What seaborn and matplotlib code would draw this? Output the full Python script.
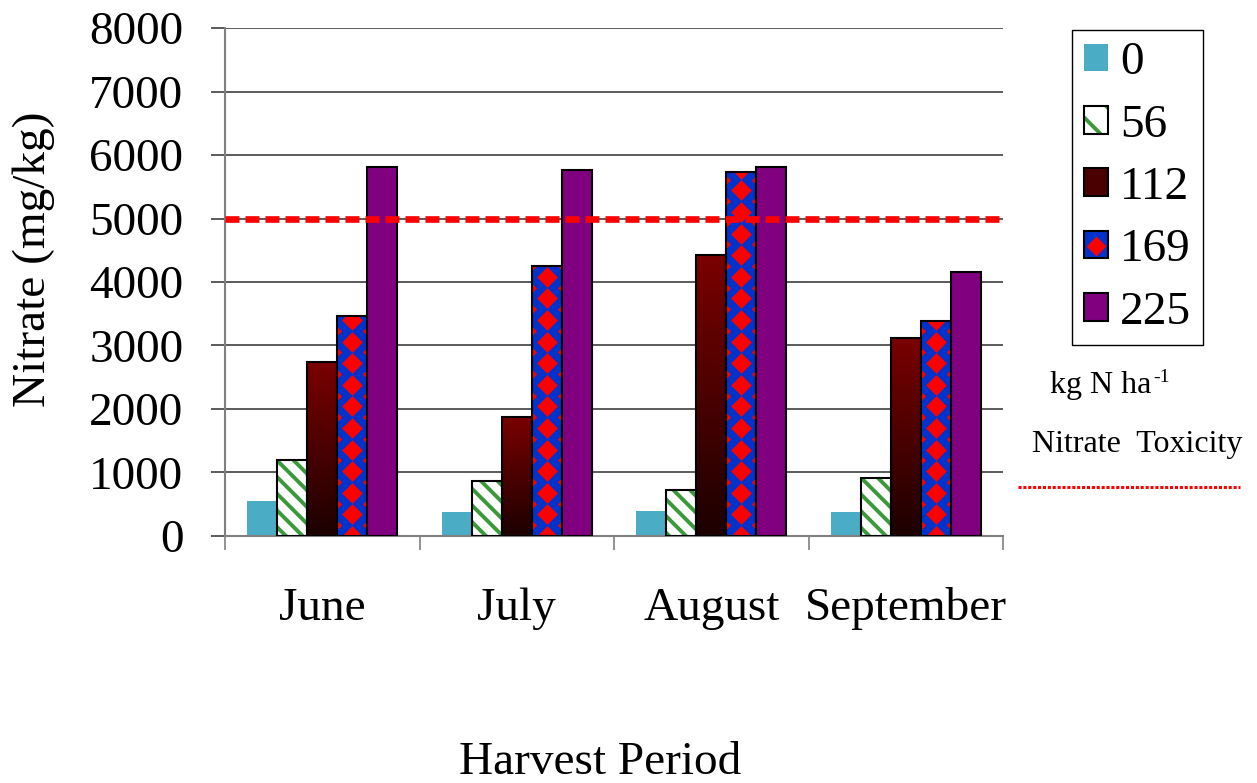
import numpy as np
import matplotlib
matplotlib.use('Agg')
import matplotlib.pyplot as plt
from matplotlib.patches import Patch, Rectangle
from matplotlib.lines import Line2D
from matplotlib.legend_handler import HandlerTuple
from matplotlib.colors import LinearSegmentedColormap
import seaborn as sns
import pandas as pd

# data (nitrate, mg/kg)
months = ['June', 'July', 'August', 'September']
rates = ['0', '56', '112', '169', '225']
n_0 = [550, 380, 390, 380]
n_56 = [1200, 870, 720, 920]
n_112 = [2740, 1880, 4420, 3120]
n_169 = [3460, 4250, 5730, 3390]
n_225 = [5810, 5760, 5810, 4160]
toxicity = 5000

df = pd.DataFrame({
    'month': months * len(rates),
    'rate': np.repeat(rates, len(months)),
    'nitrate': n_0 + n_56 + n_112 + n_169 + n_225,
})

CYAN = '#4BACC6'
GREEN = '#3A9A3A'
BLUE = '#0033CC'
PURPLE = '#800080'
DARKRED = '#4A0000'
palette = {'0': CYAN, '56': 'white', '112': DARKRED, '169': BLUE, '225': PURPLE}

sns.set_theme(style='white')
plt.rcParams['font.family'] = ['Liberation Serif', 'DejaVu Serif']
plt.rcParams['hatch.linewidth'] = 2.8
plt.rcParams['text.color'] = 'black'
plt.rcParams['axes.labelcolor'] = 'black'

fig = plt.figure(figsize=(12.57, 7.83), dpi=100)
ax = fig.add_axes([0.179, 0.3155, 0.619, 0.6487])

sns.barplot(data=df, x='month', y='nitrate', hue='rate', order=months, hue_order=rates,
            palette=palette, saturation=1, width=0.771, edgecolor='black', linewidth=1.5,
            errorbar=None, legend=False, ax=ax)

ax.set_xlim(-0.5, len(months) - 0.5)
ax.set_ylim(0, 8000)
ax.set_yticks(np.arange(0, 8001, 1000))
ax.yaxis.grid(True, color='#404040', lw=1.2)
ax.set_axisbelow(True)
for s in ['top', 'right']:
    ax.spines[s].set_visible(False)
for s in ['left', 'bottom']:
    ax.spines[s].set_color('#808080')
    ax.spines[s].set_linewidth(1.5)

# fill styles per nitrogen rate
c_0, c_56, c_112, c_169, c_225 = ax.containers
for bar in c_0:
    bar.set_edgecolor('none')

grad_cmap = LinearSegmentedColormap.from_list('dred', ['#1C0000', '#7A0000'])
grad = np.linspace(0, 1, 256).reshape(-1, 1)
px_per_y = ax.get_window_extent().height / 8000
spacing = 21.6 / px_per_y

for bar in c_56:
    x0, w, h = bar.get_x(), bar.get_width(), bar.get_height()
    ax.add_patch(Rectangle((x0, 0), w, h, facecolor='white', edgecolor=GREEN,
                           hatch='\\\\', lw=0, zorder=2))
    bar.set_facecolor('none'); bar.set_zorder(3)

for bar in c_112:
    x0, w, h = bar.get_x(), bar.get_width(), bar.get_height()
    im = ax.imshow(grad, extent=[x0, x0 + w, 0, h], origin='lower', cmap=grad_cmap,
                   aspect='auto', zorder=2, interpolation='bilinear')
    im.set_clip_path(bar)
    bar.set_facecolor('none'); bar.set_zorder(3)

for bar in c_169:
    x0, w, h = bar.get_x(), bar.get_width(), bar.get_height()
    ax.add_patch(Rectangle((x0, 0), w, h, facecolor=BLUE, lw=0, zorder=2))
    yc = np.arange(0, h + spacing, spacing)
    ye = yc + spacing / 2
    sc = ax.scatter(np.full(len(yc), x0 + w / 2), yc, marker='D', s=112, color='red',
                    linewidths=0, zorder=2.5)
    sc.set_clip_path(bar)
    se = ax.scatter(np.concatenate([np.full(len(ye), x0), np.full(len(ye), x0 + w)]),
                    np.concatenate([ye, ye]), marker='D', s=22, color='red',
                    linewidths=0, zorder=2.5)
    se.set_clip_path(bar)
    bar.set_facecolor('none'); bar.set_zorder(3)

for bar in c_225:
    bar.set_zorder(3)

# toxicity threshold
ax.axhline(toxicity, color='#FF0000', lw=4.8, ls=(0, (2.1, 0.9)), zorder=4)

# ticks: marks at category boundaries, labels at centres
ax.set_xticks(np.arange(len(months) + 1) - 0.5)
ax.set_xticklabels([''] * (len(months) + 1))
ax.set_xticks(np.arange(len(months)), minor=True)
ax.set_xticklabels(months, minor=True)
ax.tick_params(axis='x', which='major', bottom=True, direction='out', length=10,
               width=1.2, color='#808080')
ax.tick_params(axis='x', which='minor', bottom=True, length=0, pad=37, labelsize=34,
               labelcolor='black')
ax.tick_params(axis='y', left=True, direction='out', length=10, width=1.2,
               color='#404040', pad=20, labelsize=34, labelcolor='black')

ax.set_xlabel('Harvest Period', fontsize=34)
ax.xaxis.set_label_coords(0.482, -0.405)
ax.set_ylabel('Nitrate (mg/kg)', fontsize=34)
ax.yaxis.set_label_coords(-0.218, 0.545)

# legend
handles = [
    Patch(facecolor=CYAN, edgecolor='none'),
    (Patch(facecolor='white', edgecolor=GREEN, hatch='\\', lw=0),
     Patch(facecolor='none', edgecolor='black', lw=1.5)),
    Patch(facecolor=DARKRED, edgecolor='black', lw=1.5),
    (Patch(facecolor=BLUE, edgecolor='black', lw=1.5),
     Line2D([], [], marker='D', color='red', ms=9, ls='none')),
    Patch(facecolor=PURPLE, edgecolor='black', lw=1.5),
]
leg = fig.legend(handles, rates, loc='upper left', bbox_to_anchor=(1072 / 1257, 1 - 30 / 783),
                 fontsize=34, frameon=True, fancybox=False, framealpha=1, edgecolor='black',
                 handlelength=0.52, handleheight=0.52, handletextpad=0.25, labelspacing=0.42,
                 borderpad=0.25, borderaxespad=0,
                 handler_map={tuple: HandlerTuple(ndivide=1, pad=0)})
leg.get_frame().set_linewidth(1)

unit = fig.text(1050 / 1257, 1 - 385 / 783, 'kg N ha', fontsize=23, va='center', ha='left')
fig.canvas.draw()
ax.annotate('-1', xy=(1, 1), xycoords=unit, xytext=(1, 1), textcoords='offset points',
            fontsize=14, va='top', ha='left')
fig.text(1032 / 1257, 1 - 445 / 783, 'Nitrate  Toxicity', fontsize=23, va='center', ha='left')
fig.add_artist(Line2D([1018 / 1257, 1240 / 1257], [1 - 487 / 783, 1 - 487 / 783],
                      transform=fig.transFigure, color='#FF0000', lw=2.2, ls=(0, (1, 0.6))))

fig.savefig('out.png', dpi=100)
